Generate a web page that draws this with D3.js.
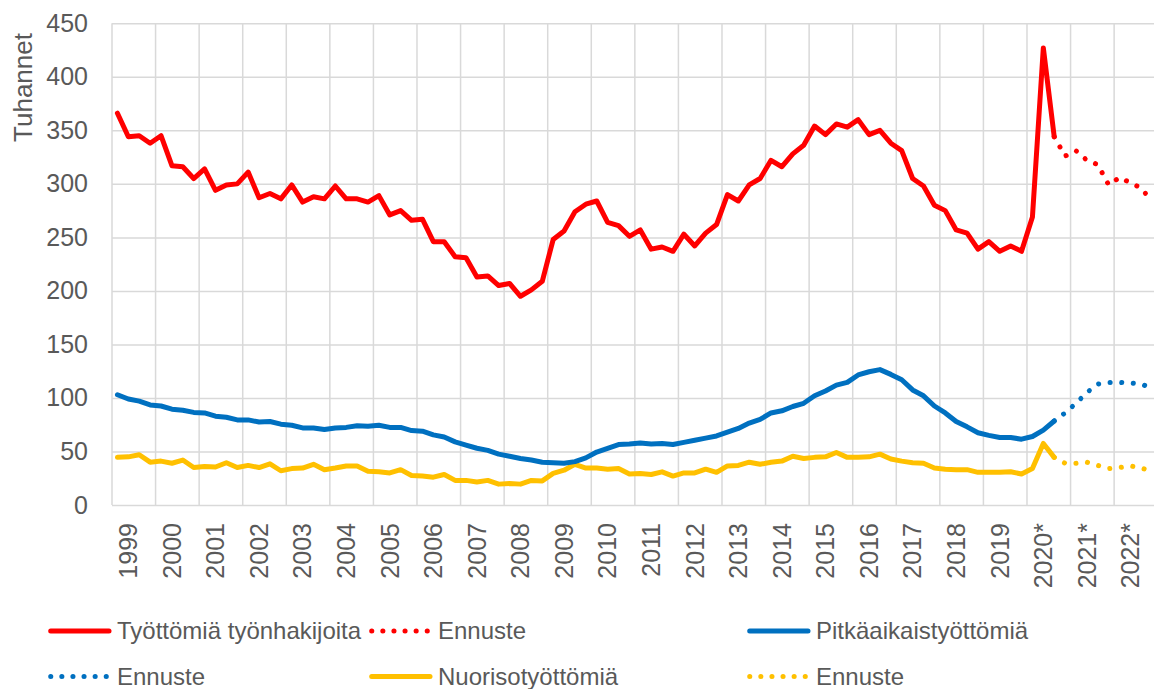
<!DOCTYPE html>
<html>
<head>
<meta charset="utf-8">
<script src="https://cdn.jsdelivr.net/npm/d3@7"></script>
<style>
  html, body { margin: 0; padding: 0; background: #fff; }
  svg { display: block; font-family: Arial, "Liberation Sans", sans-serif; }
</style>
</head>
<body>
<svg id="chart" width="1154" height="689"></svg>
<script>
// years on the axis, every year has four quarters
var years = ['1999', '2000', '2001', '2002', '2003', '2004', '2005', '2006',
  '2007', '2008', '2009', '2010', '2011', '2012', '2013', '2014', '2015',
  '2016', '2017', '2018', '2019', '2020*', '2021*', '2022*'];
var quarterNames = ['Q1', 'Q2', 'Q3', 'Q4'];
var yTicks = [0, 50, 100, 150, 200, 250, 300, 350, 400, 450];

// thousands, 1999 Q1 .. 2020 Q3
var tyottomat = [366, 344, 345, 338, 345, 317, 316, 305, 314, 294, 299, 300,
  311, 287, 291, 286, 299, 283, 288, 286, 298, 286, 286, 283, 289, 271, 275,
  266, 267, 246, 246, 232, 231, 213, 214, 205, 207, 195, 201, 209, 248, 256,
  274, 281, 284, 264, 261, 251, 257, 239, 241, 237, 253, 242, 254, 262, 290,
  284, 299, 305, 322, 316, 328, 336, 354, 346, 356, 353, 360, 346, 350, 338,
  331, 305, 298, 280, 275, 257, 254, 239, 246, 237, 242, 237, 269, 427, 344];
var pitkaaikais = [103, 99, 97, 93.5, 92.5, 89.5, 88.5, 86.5, 86, 83, 82, 79.5,
  79.5, 77.5, 78, 75.5, 74.5, 72, 72, 70.5, 72, 72.5, 74, 73.5, 74.5, 72.5,
  72.5, 69.5, 69, 65.5, 63.5, 59, 56, 53, 51, 47.5, 45.5, 43.5, 42, 40, 39.5,
  39, 40.5, 44, 49.5, 53, 56.5, 57, 58, 57, 57.5, 56.5, 58.5, 60.5, 62.5,
  64.5, 68, 71.5, 76.5, 80, 86, 88, 92, 95, 102, 106.5, 112, 114.5, 121.5,
  124.5, 126.5, 122, 117, 107.5, 102, 92.5, 86, 78, 73, 67.5, 65, 63, 63,
  61.5, 64, 70, 78.5];
var nuoriso = [44.5, 45, 47, 40, 41, 39, 42, 35, 36, 35.5, 39.5, 35, 37, 35,
  38.5, 32, 34, 34.5, 38, 33, 34.5, 36.5, 36.5, 31.5, 31, 30, 33, 27.5, 27,
  26, 28.5, 23, 23, 21.5, 23, 19.5, 20, 19.5, 23, 22.5, 29.5, 32.5, 38, 34.5,
  34.5, 33.5, 34, 29, 29.5, 28.5, 31, 27, 30, 30, 33.5, 30.5, 36.5, 37, 40,
  38, 40, 41, 45.5, 43.5, 44.5, 45, 49, 44.5, 44.5, 45, 47.5, 43, 41, 39.5,
  39, 34.5, 33.5, 33, 33, 30.5, 30.5, 30.5, 31, 29, 34, 57.5, 44.5];

// forecasts, 2020 Q3 .. 2022 Q4
var tyottomatEnnuste = [344, 326, 331, 322, 318, 299, 306, 301, 296, 283];
var pitkaaikaisEnnuste = [78.5, 86, 95, 105, 113, 114.5, 114.5, 114, 113, 109];
var nuorisoEnnuste = [44.5, 39, 39, 40, 37, 34, 35, 36.5, 34.5, 31.5];

var red = '#ff0000', blue = '#0070c0', yellow = '#ffc000';
var textColor = '#595959', gridColor = '#d9d9d9';

var quarters = [];
years.forEach(function (yr) {
  quarterNames.forEach(function (q) { quarters.push(yr + ' ' + q); });
});
var forecastStart = tyottomat.length - 1;

var svg = d3.select('#chart');
var plotLeft = 112, plotRight = 1157.7, plotTop = 23.3, plotBottom = 505;

var x = d3.scalePoint().domain(quarters).range([plotLeft, plotRight]).padding(0.5);
var xYear = d3.scaleBand().domain(years).range([plotLeft, plotRight]);
var y = d3.scaleLinear().domain([0, 450]).range([plotBottom, plotTop]);

// horizontal grid + y labels
var yAxis = svg.append('g')
    .attr('transform', 'translate(' + plotLeft + ',0)')
    .call(d3.axisLeft(y).tickValues(yTicks).tickSize(-(plotRight - plotLeft)).tickPadding(24));
yAxis.select('.domain').remove();
yAxis.selectAll('line').attr('stroke', gridColor).attr('stroke-width', 1.5);
yAxis.selectAll('text')
    .attr('fill', textColor)
    .style('font-size', '25px')
    .style('font-family', 'Arial, "Liberation Sans", sans-serif');

// vertical grid at year boundaries
svg.append('g').selectAll('line')
    .data(years.concat(['end']))
    .enter()
    .append('line')
    .attr('x1', function (d) { return d === 'end' ? plotRight : xYear(d); })
    .attr('x2', function (d) { return d === 'end' ? plotRight : xYear(d); })
    .attr('y1', plotTop)
    .attr('y2', plotBottom)
    .attr('stroke', gridColor)
    .attr('stroke-width', 1.5);

// x labels, rotated
svg.append('g').selectAll('text')
    .data(years)
    .enter()
    .append('text')
    .attr('transform', function (d) {
      return 'translate(' + x(d + ' Q2') + ',523) rotate(-90)';
    })
    .attr('text-anchor', 'end')
    .attr('dy', '0.35em')
    .attr('fill', textColor)
    .style('font-size', '25px')
    .text(function (d) { return d; });

svg.append('text')
    .attr('transform', 'translate(32,87.5) rotate(-90)')
    .attr('text-anchor', 'middle')
    .attr('fill', textColor)
    .style('font-size', '26px')
    .text('Tuhannet');

var line = d3.line()
    .x(function (d) { return x(quarters[d.i]); })
    .y(function (d) { return y(d.v); });

function toPoints(values, offset) {
  return values.map(function (v, i) { return { i: i + offset, v: v }; });
}

var series = [
  { values: nuoriso, offset: 0, color: yellow, dotted: false },
  { values: nuorisoEnnuste, offset: forecastStart, color: yellow, dotted: true },
  { values: pitkaaikais, offset: 0, color: blue, dotted: false },
  { values: pitkaaikaisEnnuste, offset: forecastStart, color: blue, dotted: true },
  { values: tyottomat, offset: 0, color: red, dotted: false },
  { values: tyottomatEnnuste, offset: forecastStart, color: red, dotted: true }
];

svg.append('g').selectAll('path')
    .data(series)
    .enter()
    .append('path')
    .attr('d', function (s) { return line(toPoints(s.values, s.offset)); })
    .attr('fill', 'none')
    .attr('stroke', function (s) { return s.color; })
    .attr('stroke-width', 5)
    .attr('stroke-linejoin', 'round')
    .attr('stroke-linecap', 'round')
    .attr('stroke-dasharray', function (s) { return s.dotted ? '0.1 11.5' : null; });

// legend
var legendItems = [
  { label: 'Työttömiä työnhakijoita', color: red, dotted: false, x: 48, row: 0 },
  { label: 'Ennuste', color: red, dotted: true, x: 369, row: 0 },
  { label: 'Pitkäaikaistyöttömiä', color: blue, dotted: false, x: 747, row: 0 },
  { label: 'Ennuste', color: blue, dotted: true, x: 48, row: 1 },
  { label: 'Nuorisotyöttömiä', color: yellow, dotted: false, x: 369, row: 1 },
  { label: 'Ennuste', color: yellow, dotted: true, x: 747, row: 1 }
];
var rowY = [631, 676.5];

var legend = svg.append('g').selectAll('g')
    .data(legendItems)
    .enter()
    .append('g')
    .attr('transform', function (d) { return 'translate(' + d.x + ',' + rowY[d.row] + ')'; });

legend.append('line')
    .attr('x1', 2.7)
    .attr('x2', function (d) { return d.dotted ? 59 : 61; })
    .attr('stroke', function (d) { return d.color; })
    .attr('stroke-width', 5)
    .attr('stroke-linecap', 'round')
    .attr('stroke-dasharray', function (d) { return d.dotted ? '0.1 11' : null; });

legend.append('text')
    .attr('x', 69)
    .attr('dy', '0.35em')
    .attr('fill', textColor)
    .style('font-size', '24px')
    .text(function (d) { return d.label; });
</script>
</body>
</html>
